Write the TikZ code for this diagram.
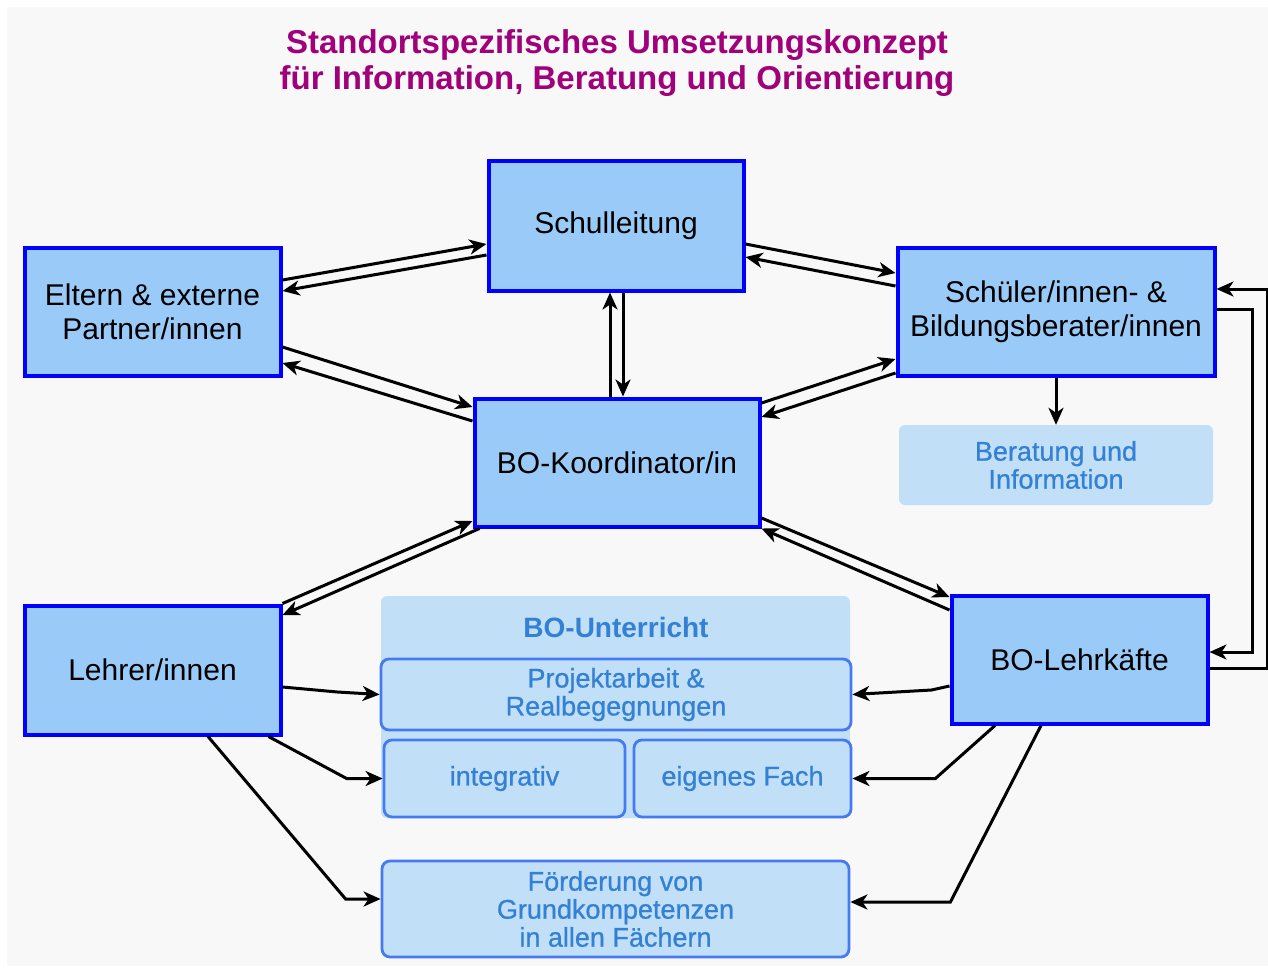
\documentclass[tikz,border=0pt]{standalone}
\usepackage{fontspec}
\setmainfont{Liberation Sans}
\newfontfamily\medfont[FakeBold=0.8]{Liberation Sans}
\usetikzlibrary{arrows.meta, calc}
\definecolor{boxfill}{RGB}{153,202,248}
\definecolor{lightfill}{RGB}{193,224,248}
\definecolor{lighttext}{RGB}{52,128,212}
\definecolor{subline}{RGB}{70,122,242}
\definecolor{titlecol}{RGB}{160,0,122}
\definecolor{bggray}{RGB}{248,248,248}

\begin{document}
\begin{tikzpicture}[x=1pt, y=-1pt,
  mainbox/.style={draw=blue, line width=4pt, fill=boxfill, align=center, inner sep=0pt, font=\fontsize{30}{34}\selectfont},
  lightbox/.style={fill=lightfill, rounded corners=6pt, align=center, inner sep=0pt, text=lighttext, font=\medfont\fontsize{27}{28}\selectfont},
  subbox/.style={lightbox, draw=subline, line width=2.8pt, rounded corners=8pt},
  arr/.style={-{Stealth[length=17pt, width=15pt, inset=5pt]}, line width=3pt}]
\useasboundingbox (0,0) rectangle (1268,967);
\fill[white] (0,0) rectangle (1268,967);
\fill[bggray] (7,7) rectangle (1268,966);

% title
\node[text=titlecol, align=center, font=\bfseries\fontsize{33}{36}\selectfont] (title) at (617,63) {Standortspezifisches Umsetzungskonzept\\f\"ur Information, Beratung und Orientierung};

% main boxes
\node[mainbox, minimum width=255pt, minimum height=130pt] (sl) at (616,225.5) {Schulleitung};
\node[mainbox, minimum width=256pt, minimum height=128pt] (elt) at (152.5,311.5) {Eltern \& externe\\Partner/innen};
\node[mainbox, minimum width=317pt, minimum height=128pt] (sch) at (1056,311.5) {Sch\"uler/innen- \&\\Bildungsberater/innen};
\node[mainbox, minimum width=285pt, minimum height=128pt] (koo) at (617,462.5) {BO-Koordinator/in};
\node[mainbox, minimum width=256pt, minimum height=129pt] (leh) at (152.5,670) {Lehrer/innen};
\node[mainbox, minimum width=256pt, minimum height=128pt] (lk) at (1079.5,659.5) {BO-Lehrk\"afte};

% light boxes
\node[lightbox, minimum width=314pt, minimum height=80pt] (ber) at (1056,465) {Beratung und\\Information};
\node[lightbox, minimum width=469pt, minimum height=222pt] (unt) at (615.5,707) {};
\node[text=lighttext, font=\bfseries\fontsize{28}{28}\selectfont] (untl) at (616,627) {BO-Unterricht};
\node[subbox, minimum width=470pt, minimum height=71pt] (proj) at (616,694.5) {Projektarbeit \&\\Realbegegnungen};
\node[subbox, minimum width=241pt, minimum height=77pt] (integ) at (504.5,778.5) {integrativ};
\node[subbox, minimum width=217pt, minimum height=77pt] (fach) at (742.5,778.5) {eigenes Fach};
\node[subbox, minimum width=467pt, minimum height=96pt] (foerd) at (615.5,909) {F\"orderung von\\Grundkompetenzen\\in allen F\"achern};

% double arrows
\draw[arr] ([yshift=31.5pt]elt.east) -- ([yshift=-18.5pt]sl.west);
\draw[arr] ([yshift=-29.5pt]sl.west) -- ([yshift=20.5pt]elt.east);
\draw[arr] ([yshift=-18.5pt]sl.east) -- ([yshift=38.5pt]sch.west);
\draw[arr] ([yshift=25.5pt]sch.west) -- ([yshift=-31.5pt]sl.east);
\draw[arr] ([yshift=-35.5pt]elt.east) -- ([yshift=55.5pt]koo.west);
\draw[arr] ([yshift=41.5pt]koo.west) -- ([yshift=-51.5pt]elt.east);
\draw[arr] ([yshift=59.5pt]koo.east) -- ([yshift=-47.5pt]sch.west);
\draw[arr] ([yshift=-61.5pt]sch.west) -- ([yshift=45.5pt]koo.east);
\draw[arr] (leh.north east) -- ([yshift=-58.5pt]koo.west);
\draw[arr] ([xshift=7pt]koo.south west) -- ([yshift=55pt]leh.east);
\draw[arr] ([yshift=-55.5pt]koo.east) -- ([yshift=62.5pt]lk.west);
\draw[arr] ([yshift=49.5pt]lk.west) -- (koo.south east);
\draw[arr] ([xshift=-7pt]koo.north) -- ([xshift=-6pt]sl.south);
\draw[arr] ([xshift=7pt]sl.south) -- ([xshift=6pt]koo.north);

% Beratung, loop on the right
\draw[arr] (sch.south) -- (ber.north);
\draw[arr] ([yshift=2.5pt]sch.east) -- ++(36,0) |- ([yshift=7.5pt]lk.east);
\draw[arr] ([yshift=-8.5pt]lk.east) -- ++(58,0) |- ([yshift=22.5pt]sch.east);

% into BO-Unterricht
\draw[arr] ([yshift=-17pt]leh.east) -- ++(55,5) -- (proj.west);
\draw[arr] ([xshift=-14pt]leh.south east) -- ($(integ.west)+(-36,0)$) -- (integ.west);
\draw[arr] ([xshift=55.5pt]leh.south) -- ($([yshift=10pt]foerd.west)+(-35,0)$) -- ([yshift=10pt]foerd.west);
\draw[arr] ([yshift=-26.5pt]lk.west) -- ++(-18,4) -- (proj.east);
\draw[arr] ([xshift=-84.5pt]lk.south) -- ($(fach.east)+(83,0)$) -- (fach.east);
\draw[arr] ([xshift=-38.5pt]lk.south) -- ($([yshift=7pt]foerd.east)+(100,0)$) -- ([yshift=7pt]foerd.east);
\end{tikzpicture}
\end{document}
